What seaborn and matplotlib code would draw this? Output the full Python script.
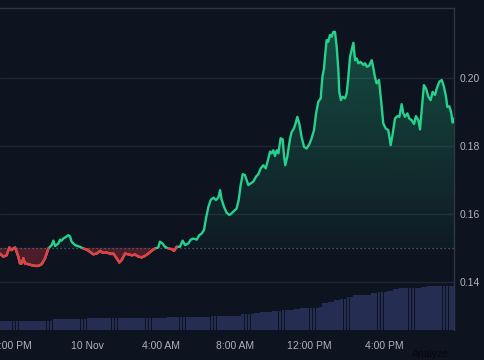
import numpy as np
import matplotlib
matplotlib.use("Agg")
import matplotlib.pyplot as plt
from matplotlib.collections import LineCollection
from matplotlib.colors import to_rgb
from matplotlib.path import Path
import pandas as pd
import seaborn as sns

# ---- data (hours relative to 10 Nov 00:00) ----
hours = [
    -4.69, -4.51, -4.33, -4.18, -4.06, -3.97, -3.88, -3.79, -3.70, -3.61,
    -3.52, -3.43, -3.34, -3.16, -2.98, -2.80, -2.62, -2.44, -2.26, -2.08,
    -1.90, -1.81, -1.72, -1.54, -1.45, -1.37, -1.28, -1.13, -1.01, -0.92,
    -0.83, -0.65, -0.38, -0.20, -0.02, 0.16, 0.34, 0.52, 0.70, 0.88,
    1.06, 1.24, 1.42, 1.60, 1.74, 1.87, 2.05, 2.23, 2.41, 2.59,
    2.77, 2.95, 3.12, 3.30, 3.48, 3.66, 3.84, 3.93, 4.06, 4.20,
    4.38, 4.56, 4.69, 4.83, 5.01, 5.15, 5.28, 5.46, 5.59, 5.73,
    5.91, 6.05, 6.18, 6.30, 6.41, 6.54, 6.66, 6.81, 6.95, 7.08,
    7.17, 7.25, 7.38, 7.52, 7.67, 7.79, 7.88, 8.06, 8.17, 8.28,
    8.39, 8.51, 8.60, 8.69, 8.82, 8.96, 9.10, 9.23, 9.36, 9.50,
    9.63, 9.77, 9.86, 9.95, 10.04, 10.13, 10.22, 10.31, 10.43, 10.54,
    10.61, 10.68, 10.79, 10.94, 11.03, 11.15, 11.26, 11.33, 11.44, 11.56,
    11.69, 11.83, 11.98, 12.10, 12.23, 12.34, 12.46, 12.59, 12.68, 12.77,
    12.82, 12.91, 13.00, 13.09, 13.18, 13.27, 13.36, 13.45, 13.54, 13.59,
    13.68, 13.77, 13.90, 13.99, 14.08, 14.17, 14.26, 14.35, 14.44, 14.53,
    14.62, 14.74, 14.89, 14.98, 15.07, 15.19, 15.34, 15.43, 15.51, 15.60,
    15.73, 15.84, 15.96, 16.09, 16.23, 16.36, 16.47, 16.59, 16.72, 16.83,
    16.95, 17.04, 17.13, 17.26, 17.36, 17.49, 17.62, 17.72, 17.85, 17.94,
    18.03, 18.15, 18.26, 18.39, 18.51, 18.62, 18.75, 18.84, 18.98, 19.11,
    19.23, 19.34, 19.41, 19.52, 19.61, 19.70, 19.77,
]
price = [
    0.1484, 0.1475, 0.1479, 0.1502, 0.1494, 0.1499, 0.1502, 0.1489, 0.1475, 0.1455,
    0.1455, 0.1470, 0.1455, 0.1453, 0.1450, 0.1448, 0.1448, 0.1453, 0.1470, 0.1499,
    0.1509, 0.1522, 0.1506, 0.1514, 0.1525, 0.1522, 0.1528, 0.1533, 0.1538, 0.1535,
    0.1519, 0.1509, 0.1504, 0.1499, 0.1496, 0.1489, 0.1482, 0.1484, 0.1492, 0.1486,
    0.1487, 0.1484, 0.1484, 0.1470, 0.1458, 0.1465, 0.1484, 0.1482, 0.1479, 0.1481,
    0.1475, 0.1473, 0.1477, 0.1484, 0.1492, 0.1499, 0.1502, 0.1519, 0.1514, 0.1504,
    0.1499, 0.1497, 0.1492, 0.1504, 0.1504, 0.1522, 0.1509, 0.1514, 0.1525, 0.1528,
    0.1525, 0.1538, 0.1543, 0.1553, 0.1587, 0.1621, 0.1641, 0.1648, 0.1641, 0.1649,
    0.1670, 0.1643, 0.1621, 0.1604, 0.1597, 0.1602, 0.1607, 0.1616, 0.1641, 0.1685,
    0.1717, 0.1714, 0.1699, 0.1685, 0.1690, 0.1695, 0.1709, 0.1717, 0.1734, 0.1743,
    0.1734, 0.1763, 0.1783, 0.1778, 0.1787, 0.1770, 0.1787, 0.1778, 0.1822, 0.1819,
    0.1773, 0.1743, 0.1768, 0.1822, 0.1841, 0.1851, 0.1870, 0.1885, 0.1864, 0.1826,
    0.1797, 0.1792, 0.1805, 0.1822, 0.1846, 0.1895, 0.1929, 0.1939, 0.2002, 0.2027,
    0.2061, 0.2110, 0.2105, 0.2125, 0.2120, 0.2134, 0.2134, 0.2090, 0.2022, 0.1958,
    0.1934, 0.1944, 0.1939, 0.1954, 0.2002, 0.2061, 0.2081, 0.2102, 0.2051, 0.2056,
    0.2042, 0.2046, 0.2037, 0.2042, 0.2032, 0.2034, 0.2051, 0.2027, 0.2002, 0.1983,
    0.1993, 0.1934, 0.1866, 0.1851, 0.1846, 0.1802, 0.1836, 0.1880, 0.1887, 0.1885,
    0.1922, 0.1895, 0.1885, 0.1895, 0.1880, 0.1875, 0.1864, 0.1887, 0.1875, 0.1848,
    0.1905, 0.1978, 0.1968, 0.1944, 0.1934, 0.1958, 0.1949, 0.1968, 0.1988, 0.1993,
    0.1973, 0.1944, 0.1914, 0.1916, 0.1900, 0.1868, 0.1880,
]
baseline = 0.15

# volume (step levels, arbitrary units) and the hour each level starts
vol_start = [-4.69, -1.83, 0.05, 4.31, 6.63, 8.24, 8.94, 9.32, 10.02, 10.56,
             11.10, 11.47, 12.44, 12.66, 12.93, 13.25, 13.63, 14.01, 14.33,
             14.71, 15.35, 15.62, 16.16, 16.48, 16.86, 18.05, 18.37]
vol_level = [0.93, 1.07, 1.20, 1.30, 1.43, 1.60, 1.67, 1.77, 1.90, 2.00,
             2.10, 2.20, 2.33, 2.67, 2.83, 3.00, 3.13, 3.33, 3.47,
             3.53, 3.73, 3.83, 3.93, 4.07, 4.17, 4.33, 4.43]

x_ticks = [-4, 0, 4, 8, 12, 16]
x_labels = ["8:00 PM", "10 Nov", "4:00 AM", "8:00 AM", "12:00 PM", "4:00 PM"]
y_ticks = [0.14, 0.16, 0.18, 0.20]

BG = "#0e1320"
GREEN = "#26d18d"
RED = "#ef3a43"
GRID = "#1f2535"
EDGE = "#2f3546"
TXT = "#aeb2bc"

sns.set_theme(style="dark")
plt.rcParams["font.family"] = ["Liberation Sans", "DejaVu Sans"]

df = pd.DataFrame({"hour": hours, "price": price})
x = df["hour"].to_numpy()
y = df["price"].to_numpy()

xmin, xmax = -4.687, 19.771
ymin, ymax = 0.1260, 0.2204

fig = plt.figure(figsize=(4.85, 3.6), dpi=100, facecolor=BG)
ax = fig.add_axes([0, 30 / 360, 454 / 485, 322 / 360])
ax.set_facecolor(BG)

# ---- gradient fill above baseline ----
fill = ax.fill_between(x, y, baseline, where=y >= baseline, interpolate=True,
                       facecolor="none", edgecolor="none")
clip = Path.make_compound_path(*fill.get_paths())
grad = np.zeros((256, 1, 4))
grad[..., :3] = to_rgb(GREEN)
grad[:, 0, 3] = np.linspace(0.34, 0.04, 256)
img = ax.imshow(grad, extent=[xmin, xmax, baseline, ymax], aspect="auto",
                origin="upper", zorder=1, interpolation="bilinear")
img.set_clip_path(clip, ax.transData)

# ---- red fill below baseline ----
ax.fill_between(x, y, baseline, where=y < baseline, interpolate=True,
                color=RED, alpha=0.28, lw=0, zorder=1)

ax.axhline(baseline, color="#666a76", lw=0.9, ls=(0, (1, 2.2)), zorder=2)

# ---- price line: green, red where below baseline ----
sns.lineplot(data=df, x="hour", y="price", color=GREEN, lw=1.7, ax=ax,
             estimator=None, sort=False, zorder=3)
segs = np.stack([np.column_stack([x[:-1], y[:-1]]),
                 np.column_stack([x[1:], y[1:]])], axis=1)
below = (y[:-1] + y[1:]) / 2 < baseline
ax.add_collection(LineCollection(segs[below], colors=RED, linewidths=1.7,
                                 capstyle="round", zorder=4))

ax.set_xlim(xmin, xmax)
ax.set_ylim(ymin, ymax)
ax.set_xlabel("")
ax.set_ylabel("")

ax.set_yticks(y_ticks, [f"{v:.2f}" for v in y_ticks])
ax.yaxis.tick_right()
ax.set_xticks(x_ticks, x_labels)
ax.tick_params(axis="y", length=0, pad=4, labelcolor=TXT, labelsize=7.5)
ax.tick_params(axis="x", length=0, pad=8, labelcolor=TXT, labelsize=7.5)
ax.grid(axis="y", color=GRID, lw=1)
ax.grid(axis="x", visible=False)
for side in ["left", "bottom"]:
    ax.spines[side].set_visible(False)
for side in ["top", "right"]:
    ax.spines[side].set_visible(True)
    ax.spines[side].set_color(EDGE)
    ax.spines[side].set_linewidth(1)

# ---- volume pane ----
vax = fig.add_axes([0, 30 / 360, 454 / 485, 60 / 360])
vax.patch.set_alpha(0)
vax.axis("off")
bar_t = np.arange(xmin + 1 / 12, xmax, 1 / 6)
idx = np.searchsorted(vol_start, bar_t, side="right") - 1
vax.bar(bar_t, np.array(vol_level)[np.clip(idx, 0, None)], width=1 / 6 * 0.9,
        color="#262d52", lw=0)
vax.set_xlim(xmin, xmax)
vax.set_ylim(0, 6.0)

fig.text(412 / 485, 1 - 349 / 360, "Analyze", color="#07080b", fontsize=7.5,
         va="top", ha="left")

fig.savefig("out.png", dpi=100, facecolor=BG)
